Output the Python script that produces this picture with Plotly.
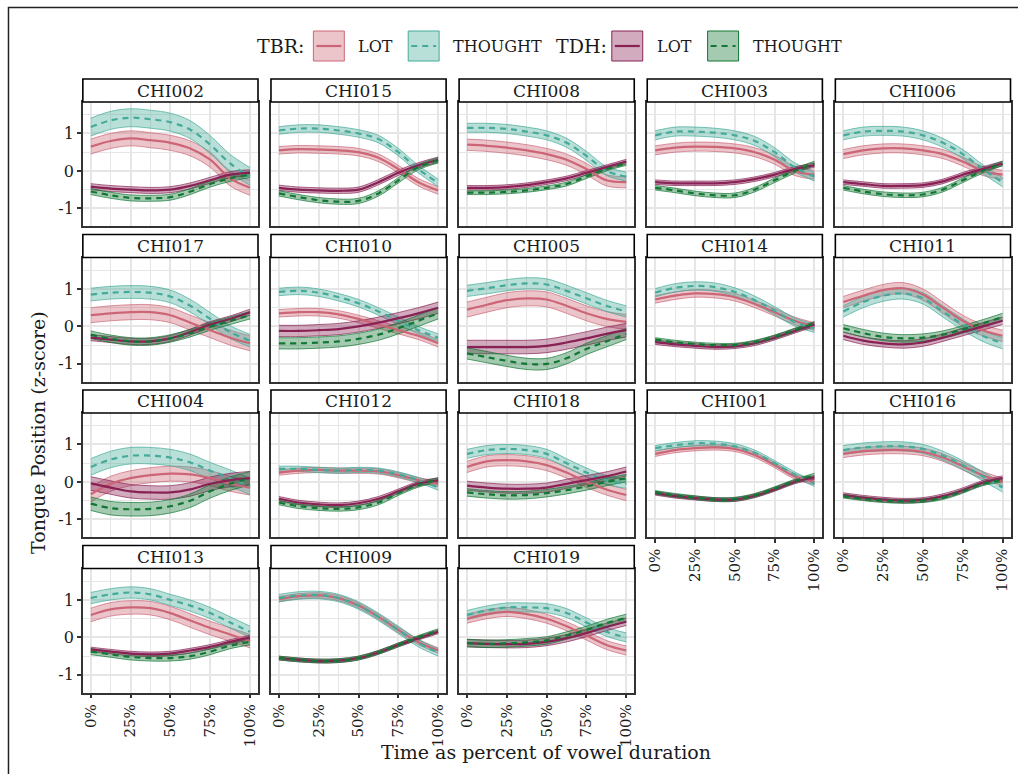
import plotly.graph_objects as go

TIME = [0, 0.125, 0.25, 0.375, 0.5, 0.625, 0.75, 0.875, 1.0]
SPEAKERS = ["CHI002", "CHI015", "CHI008", "CHI003", "CHI006",
            "CHI017", "CHI010", "CHI005", "CHI014", "CHI011",
            "CHI004", "CHI012", "CHI018", "CHI001", "CHI016",
            "CHI013", "CHI009", "CHI019"]
X_TICKS = [0, 0.25, 0.5, 0.75, 1.0]
X_TICK_LABELS = ["0%", "25%", "50%", "75%", "100%"]
Y_TICKS = [-1, 0, 1]
Y_TICK_LABELS = ["-1", "0", "1"]

TBR_LOT = [
    [0.65, 0.80, 0.87, 0.82, 0.75, 0.60, 0.30, -0.20, -0.45],
    [0.55, 0.58, 0.57, 0.55, 0.50, 0.35, 0.05, -0.30, -0.52],
    [0.70, 0.67, 0.62, 0.55, 0.45, 0.30, 0.05, -0.25, -0.30],
    [0.55, 0.62, 0.65, 0.64, 0.60, 0.50, 0.30, 0.00, -0.10],
    [0.45, 0.55, 0.60, 0.60, 0.55, 0.45, 0.25, 0.00, -0.10],
    [0.30, 0.35, 0.38, 0.38, 0.30, 0.10, -0.10, -0.30, -0.45],
    [0.35, 0.38, 0.38, 0.32, 0.20, 0.05, -0.10, -0.25, -0.45],
    [0.45, 0.58, 0.70, 0.75, 0.72, 0.55, 0.35, 0.20, 0.12],
    [0.72, 0.82, 0.88, 0.86, 0.78, 0.60, 0.38, 0.15, 0.00],
    [0.65, 0.82, 0.97, 1.02, 0.85, 0.50, 0.15, -0.10, -0.25],
    [-0.33, -0.05, 0.10, 0.18, 0.22, 0.20, 0.10, -0.05, -0.15],
    [0.25, 0.30, 0.32, 0.30, 0.30, 0.28, 0.18, 0.05, -0.05],
    [0.40, 0.55, 0.58, 0.55, 0.45, 0.25, 0.00, -0.20, -0.35],
    [0.75, 0.85, 0.90, 0.92, 0.88, 0.72, 0.45, 0.15, 0.00],
    [0.75, 0.82, 0.85, 0.85, 0.80, 0.65, 0.42, 0.18, 0.00],
    [0.60, 0.75, 0.80, 0.78, 0.65, 0.45, 0.25, 0.08, -0.10],
    [1.02, 1.10, 1.12, 1.05, 0.85, 0.55, 0.20, -0.12, -0.35],
    [0.50, 0.62, 0.68, 0.62, 0.50, 0.30, 0.05, -0.20, -0.35],
]
TBR_THOUGHT = [
    [1.17, 1.35, 1.42, 1.38, 1.30, 1.10, 0.70, 0.20, -0.15],
    [1.08, 1.13, 1.13, 1.08, 1.00, 0.85, 0.50, 0.05, -0.32],
    [1.15, 1.15, 1.12, 1.05, 0.95, 0.75, 0.40, 0.00, -0.15],
    [0.95, 1.05, 1.05, 1.02, 0.95, 0.80, 0.50, 0.10, -0.15],
    [0.95, 1.05, 1.07, 1.05, 0.95, 0.75, 0.45, 0.05, -0.30],
    [0.85, 0.90, 0.92, 0.90, 0.80, 0.55, 0.20, -0.15, -0.38],
    [0.92, 0.95, 0.90, 0.78, 0.62, 0.40, 0.15, -0.10, -0.30],
    [0.95, 1.02, 1.10, 1.15, 1.12, 0.95, 0.75, 0.55, 0.40],
    [0.90, 1.03, 1.08, 1.05, 0.92, 0.70, 0.42, 0.12, -0.05],
    [0.40, 0.65, 0.82, 0.88, 0.75, 0.40, 0.05, -0.25, -0.45],
    [0.40, 0.60, 0.70, 0.70, 0.65, 0.52, 0.30, 0.10, -0.12],
    [0.35, 0.35, 0.32, 0.30, 0.32, 0.30, 0.20, 0.05, -0.15],
    [0.75, 0.85, 0.88, 0.85, 0.75, 0.50, 0.25, 0.05, -0.05],
    [0.90, 0.98, 1.03, 1.02, 0.95, 0.78, 0.50, 0.20, -0.05],
    [0.85, 0.92, 0.95, 0.95, 0.88, 0.70, 0.45, 0.15, -0.15],
    [1.05, 1.15, 1.20, 1.15, 1.00, 0.85, 0.65, 0.40, 0.15],
    [1.05, 1.12, 1.13, 1.05, 0.85, 0.55, 0.20, -0.15, -0.40],
    [0.60, 0.72, 0.80, 0.80, 0.78, 0.65, 0.40, 0.15, 0.00],
]
TDH_LOT = [
    [-0.42, -0.47, -0.50, -0.52, -0.50, -0.40, -0.25, -0.10, -0.05],
    [-0.45, -0.50, -0.52, -0.53, -0.50, -0.30, -0.05, 0.15, 0.30],
    [-0.45, -0.45, -0.43, -0.38, -0.30, -0.20, -0.05, 0.10, 0.25],
    [-0.30, -0.33, -0.33, -0.33, -0.30, -0.22, -0.10, 0.05, 0.15],
    [-0.30, -0.35, -0.40, -0.40, -0.38, -0.28, -0.10, 0.05, 0.20],
    [-0.30, -0.35, -0.40, -0.40, -0.32, -0.15, 0.05, 0.20, 0.38],
    [-0.12, -0.12, -0.10, -0.07, 0.00, 0.10, 0.22, 0.35, 0.50],
    [-0.55, -0.55, -0.55, -0.55, -0.52, -0.43, -0.32, -0.20, -0.10],
    [-0.42, -0.48, -0.52, -0.55, -0.53, -0.45, -0.30, -0.12, 0.05],
    [-0.25, -0.38, -0.45, -0.48, -0.43, -0.30, -0.15, 0.00, 0.15],
    [-0.04, -0.15, -0.25, -0.28, -0.28, -0.20, -0.05, 0.05, 0.10],
    [-0.45, -0.55, -0.60, -0.62, -0.57, -0.45, -0.25, -0.05, 0.05],
    [-0.10, -0.15, -0.18, -0.18, -0.15, -0.05, 0.05, 0.15, 0.28],
    [-0.30, -0.38, -0.43, -0.47, -0.47, -0.37, -0.20, 0.00, 0.12],
    [-0.35, -0.42, -0.47, -0.50, -0.48, -0.38, -0.22, -0.02, 0.10],
    [-0.32, -0.38, -0.43, -0.45, -0.43, -0.35, -0.25, -0.12, 0.00],
    [-0.55, -0.60, -0.63, -0.62, -0.55, -0.40, -0.20, -0.02, 0.15],
    [-0.15, -0.17, -0.18, -0.17, -0.12, -0.02, 0.12, 0.28, 0.42],
]
TDH_THOUGHT = [
    [-0.55, -0.65, -0.72, -0.73, -0.70, -0.55, -0.35, -0.20, -0.10],
    [-0.60, -0.70, -0.78, -0.82, -0.80, -0.60, -0.25, 0.10, 0.28],
    [-0.58, -0.58, -0.56, -0.52, -0.45, -0.35, -0.15, 0.05, 0.20],
    [-0.45, -0.52, -0.60, -0.65, -0.65, -0.50, -0.25, 0.00, 0.20],
    [-0.45, -0.55, -0.62, -0.65, -0.63, -0.50, -0.25, 0.00, 0.20],
    [-0.22, -0.33, -0.40, -0.40, -0.32, -0.18, 0.00, 0.15, 0.30],
    [-0.45, -0.45, -0.43, -0.40, -0.33, -0.22, -0.05, 0.15, 0.35],
    [-0.72, -0.82, -0.92, -1.00, -1.00, -0.85, -0.60, -0.40, -0.20],
    [-0.35, -0.42, -0.47, -0.50, -0.50, -0.42, -0.28, -0.10, 0.08],
    [-0.05, -0.18, -0.28, -0.32, -0.30, -0.22, -0.08, 0.08, 0.25],
    [-0.58, -0.70, -0.73, -0.72, -0.65, -0.50, -0.25, -0.05, 0.10],
    [-0.55, -0.65, -0.70, -0.72, -0.68, -0.55, -0.30, -0.08, 0.05],
    [-0.28, -0.33, -0.36, -0.35, -0.30, -0.22, -0.12, 0.00, 0.10],
    [-0.28, -0.36, -0.42, -0.47, -0.46, -0.36, -0.18, 0.02, 0.18],
    [-0.38, -0.45, -0.50, -0.52, -0.50, -0.42, -0.25, -0.05, 0.05],
    [-0.38, -0.45, -0.52, -0.55, -0.55, -0.50, -0.38, -0.22, -0.12],
    [-0.55, -0.60, -0.63, -0.62, -0.55, -0.40, -0.20, 0.00, 0.18],
    [-0.15, -0.17, -0.16, -0.13, -0.08, 0.05, 0.20, 0.38, 0.52],
]
# ribbon half-widths (standard error band) per speaker
TBR_LOT_SE = [0.20, 0.10, 0.15, 0.12, 0.12, 0.20, 0.10, 0.20, 0.10, 0.15,
              0.20, 0.07, 0.15, 0.07, 0.10, 0.18, 0.07, 0.12]
TBR_THOUGHT_SE = [0.24, 0.10, 0.12, 0.12, 0.12, 0.17, 0.10, 0.15, 0.11, 0.15,
                  0.22, 0.07, 0.12, 0.07, 0.12, 0.15, 0.10, 0.12]
TDH_LOT_SE = [0.08, 0.07, 0.06, 0.06, 0.06, 0.08, 0.15, 0.18, 0.06, 0.10,
              0.18, 0.06, 0.12, 0.05, 0.06, 0.06, 0.05, 0.10]
TDH_THOUGHT_SE = [0.08, 0.07, 0.05, 0.06, 0.06, 0.10, 0.15, 0.15, 0.05, 0.10,
                  0.18, 0.06, 0.10, 0.05, 0.05, 0.08, 0.05, 0.10]

SERIES = [
    ("TBR LOT", TBR_LOT, TBR_LOT_SE, "#CC6677", "solid"),
    ("TBR THOUGHT", TBR_THOUGHT, TBR_THOUGHT_SE, "#44AA99", "6px,5px"),
    ("TDH LOT", TDH_LOT, TDH_LOT_SE, "#882255", "solid"),
    ("TDH THOUGHT", TDH_THOUGHT, TDH_THOUGHT_SE, "#117733", "6px,5px"),
]

W, H = 1018, 774
FONT = "DejaVu Serif"
TXT = "#1a1a1a"
NCOL = 5
PX0, PW, PSTEP = 82.0, 175.5, 188.5
PY0, PH, PSTEPY = 102.0, 124.0, 155.5
STRIP_H = 23.0
YR = [-1.47, 1.84]
XR = [-0.05, 1.05]
GRID = "#E6E6E6"


def rgba(hexc, a):
    h = hexc.lstrip("#")
    r, g, b = int(h[0:2], 16), int(h[2:4], 16), int(h[4:6], 16)
    return f"rgba({r},{g},{b},{a})"


def px(x):
    return x / W


def py(y):
    return 1 - y / H


fig = go.Figure()
layout = {}
shapes = []
annotations = []
n = len(SPEAKERS)
bottom_idx = set()
for c in range(NCOL):
    idxs = [i for i in range(n) if i % NCOL == c]
    bottom_idx.add(max(idxs))

for i, spk in enumerate(SPEAKERS):
    r, c = divmod(i, NCOL)
    k = i + 1
    xa = "x" if k == 1 else f"x{k}"
    ya = "y" if k == 1 else f"y{k}"
    x0 = PX0 + c * PSTEP
    y0 = PY0 + r * PSTEPY
    is_bottom = i in bottom_idx
    is_left = c == 0
    layout["xaxis" if k == 1 else f"xaxis{k}"] = dict(
        domain=[px(x0), px(x0 + PW)], anchor=ya, range=XR,
        tickvals=X_TICKS, ticktext=X_TICK_LABELS, tickangle=-90,
        showticklabels=is_bottom, ticks="outside" if is_bottom else "",
        ticklen=4, tickwidth=1.5, tickcolor="#333333",
        showgrid=True, gridcolor=GRID, gridwidth=1.5,
        minor=dict(dtick=0.125, tick0=0, showgrid=True, gridcolor=GRID, gridwidth=0.9),
        showline=True, mirror=True, linecolor="#333333", linewidth=1.5,
        zeroline=False, fixedrange=True,
        tickfont=dict(family=FONT, size=15, color=TXT),
    )
    layout["yaxis" if k == 1 else f"yaxis{k}"] = dict(
        domain=[py(y0 + PH), py(y0)], anchor=xa, range=YR,
        tickvals=Y_TICKS, ticktext=Y_TICK_LABELS,
        showticklabels=is_left, ticks="outside" if is_left else "",
        ticklen=4, tickwidth=1.5, tickcolor="#333333",
        showgrid=True, gridcolor=GRID, gridwidth=1.5,
        minor=dict(dtick=0.5, tick0=-1.5, showgrid=True, gridcolor=GRID, gridwidth=0.9),
        showline=True, mirror=True, linecolor="#333333", linewidth=1.5,
        zeroline=False, fixedrange=True,
        tickfont=dict(family=FONT, size=16, color=TXT),
    )
    # ribbons
    for name, data, se, col, dash in SERIES:
        mean = data[i]
        lo = [m - se[i] for m in mean]
        hi = [m + se[i] for m in mean]
        fig.add_trace(go.Scatter(x=TIME, y=lo, xaxis=xa, yaxis=ya, mode="lines",
                                 line=dict(color=col, width=0.7, shape="spline"),
                                 showlegend=False, hoverinfo="skip"))
        fig.add_trace(go.Scatter(x=TIME, y=hi, xaxis=xa, yaxis=ya, mode="lines",
                                 line=dict(color=col, width=0.7, shape="spline"),
                                 fill="tonexty", fillcolor=rgba(col, 0.38),
                                 showlegend=False, hoverinfo="skip"))
    # lines
    for name, data, se, col, dash in SERIES:
        fig.add_trace(go.Scatter(x=TIME, y=data[i], xaxis=xa, yaxis=ya, mode="lines",
                                 line=dict(color=col, width=2.2, shape="spline", dash=dash),
                                 name=f"{spk} {name}", showlegend=False))
    # strip
    shapes.append(dict(type="rect", xref="paper", yref="paper",
                       x0=px(x0), x1=px(x0 + PW), y0=py(y0), y1=py(y0 - STRIP_H),
                       fillcolor="white", line=dict(color="#000000", width=1.6), layer="above"))
    annotations.append(dict(text=spk, xref="paper", yref="paper",
                            x=px(x0 + PW / 2), y=py(y0 - STRIP_H / 2),
                            showarrow=False, xanchor="center", yanchor="middle",
                            font=dict(family=FONT, size=17, color=TXT)))

# legend (manual)
LEG_Y = 46
legend_items = [
    ("TBR:", 254, None, None, None),
    (None, 313, "#CC6677", "solid", "LOT"),
    (None, 408, "#44AA99", "dash", "THOUGHT"),
    ("TDH:", 554, None, None, None),
    (None, 612, "#882255", "solid", "LOT"),
    (None, 708, "#117733", "dash", "THOUGHT"),
]
for title, lx, col, dash, lab in legend_items:
    if title:
        annotations.append(dict(text=title, xref="paper", yref="paper", x=px(lx), y=py(LEG_Y),
                                showarrow=False, xanchor="left", yanchor="middle",
                                font=dict(family=FONT, size=19, color=TXT)))
    else:
        shapes.append(dict(type="rect", xref="paper", yref="paper",
                           x0=px(lx), x1=px(lx + 31), y0=py(LEG_Y + 15), y1=py(LEG_Y - 15),
                           fillcolor=rgba(col, 0.38), line=dict(color=col, width=1)))
        shapes.append(dict(type="line", xref="paper", yref="paper",
                           x0=px(lx + 3), x1=px(lx + 28), y0=py(LEG_Y), y1=py(LEG_Y),
                           line=dict(color=col, width=2.2, dash="solid" if dash == "solid" else "6px,5px")))
        annotations.append(dict(text=lab, xref="paper", yref="paper", x=px(lx + 43), y=py(LEG_Y + 1),
                                showarrow=False, xanchor="left", yanchor="middle",
                                font=dict(family=FONT, size=16, color=TXT)))

# axis titles
annotations.append(dict(text="Time as percent of vowel duration", xref="paper", yref="paper",
                        x=px(546), y=py(752), showarrow=False, xanchor="center", yanchor="middle",
                        font=dict(family=FONT, size=19, color=TXT)))
annotations.append(dict(text="Tongue Position (z-score)", xref="paper", yref="paper",
                        x=px(37), y=py(432), showarrow=False, xanchor="center", yanchor="middle",
                        textangle=-90, font=dict(family=FONT, size=19, color=TXT)))

# outer border
shapes.append(dict(type="rect", xref="paper", yref="paper",
                   x0=px(7.5), x1=px(W + 20), y0=py(H + 20), y1=py(7.5),
                   fillcolor="rgba(0,0,0,0)", line=dict(color="#222222", width=1.5)))

fig.update_layout(width=W, height=H, margin=dict(l=0, r=0, t=0, b=0),
                  paper_bgcolor="white", plot_bgcolor="white",
                  shapes=shapes, annotations=annotations, showlegend=False,
                  font=dict(family=FONT), **layout)
fig.write_html("out.html")
